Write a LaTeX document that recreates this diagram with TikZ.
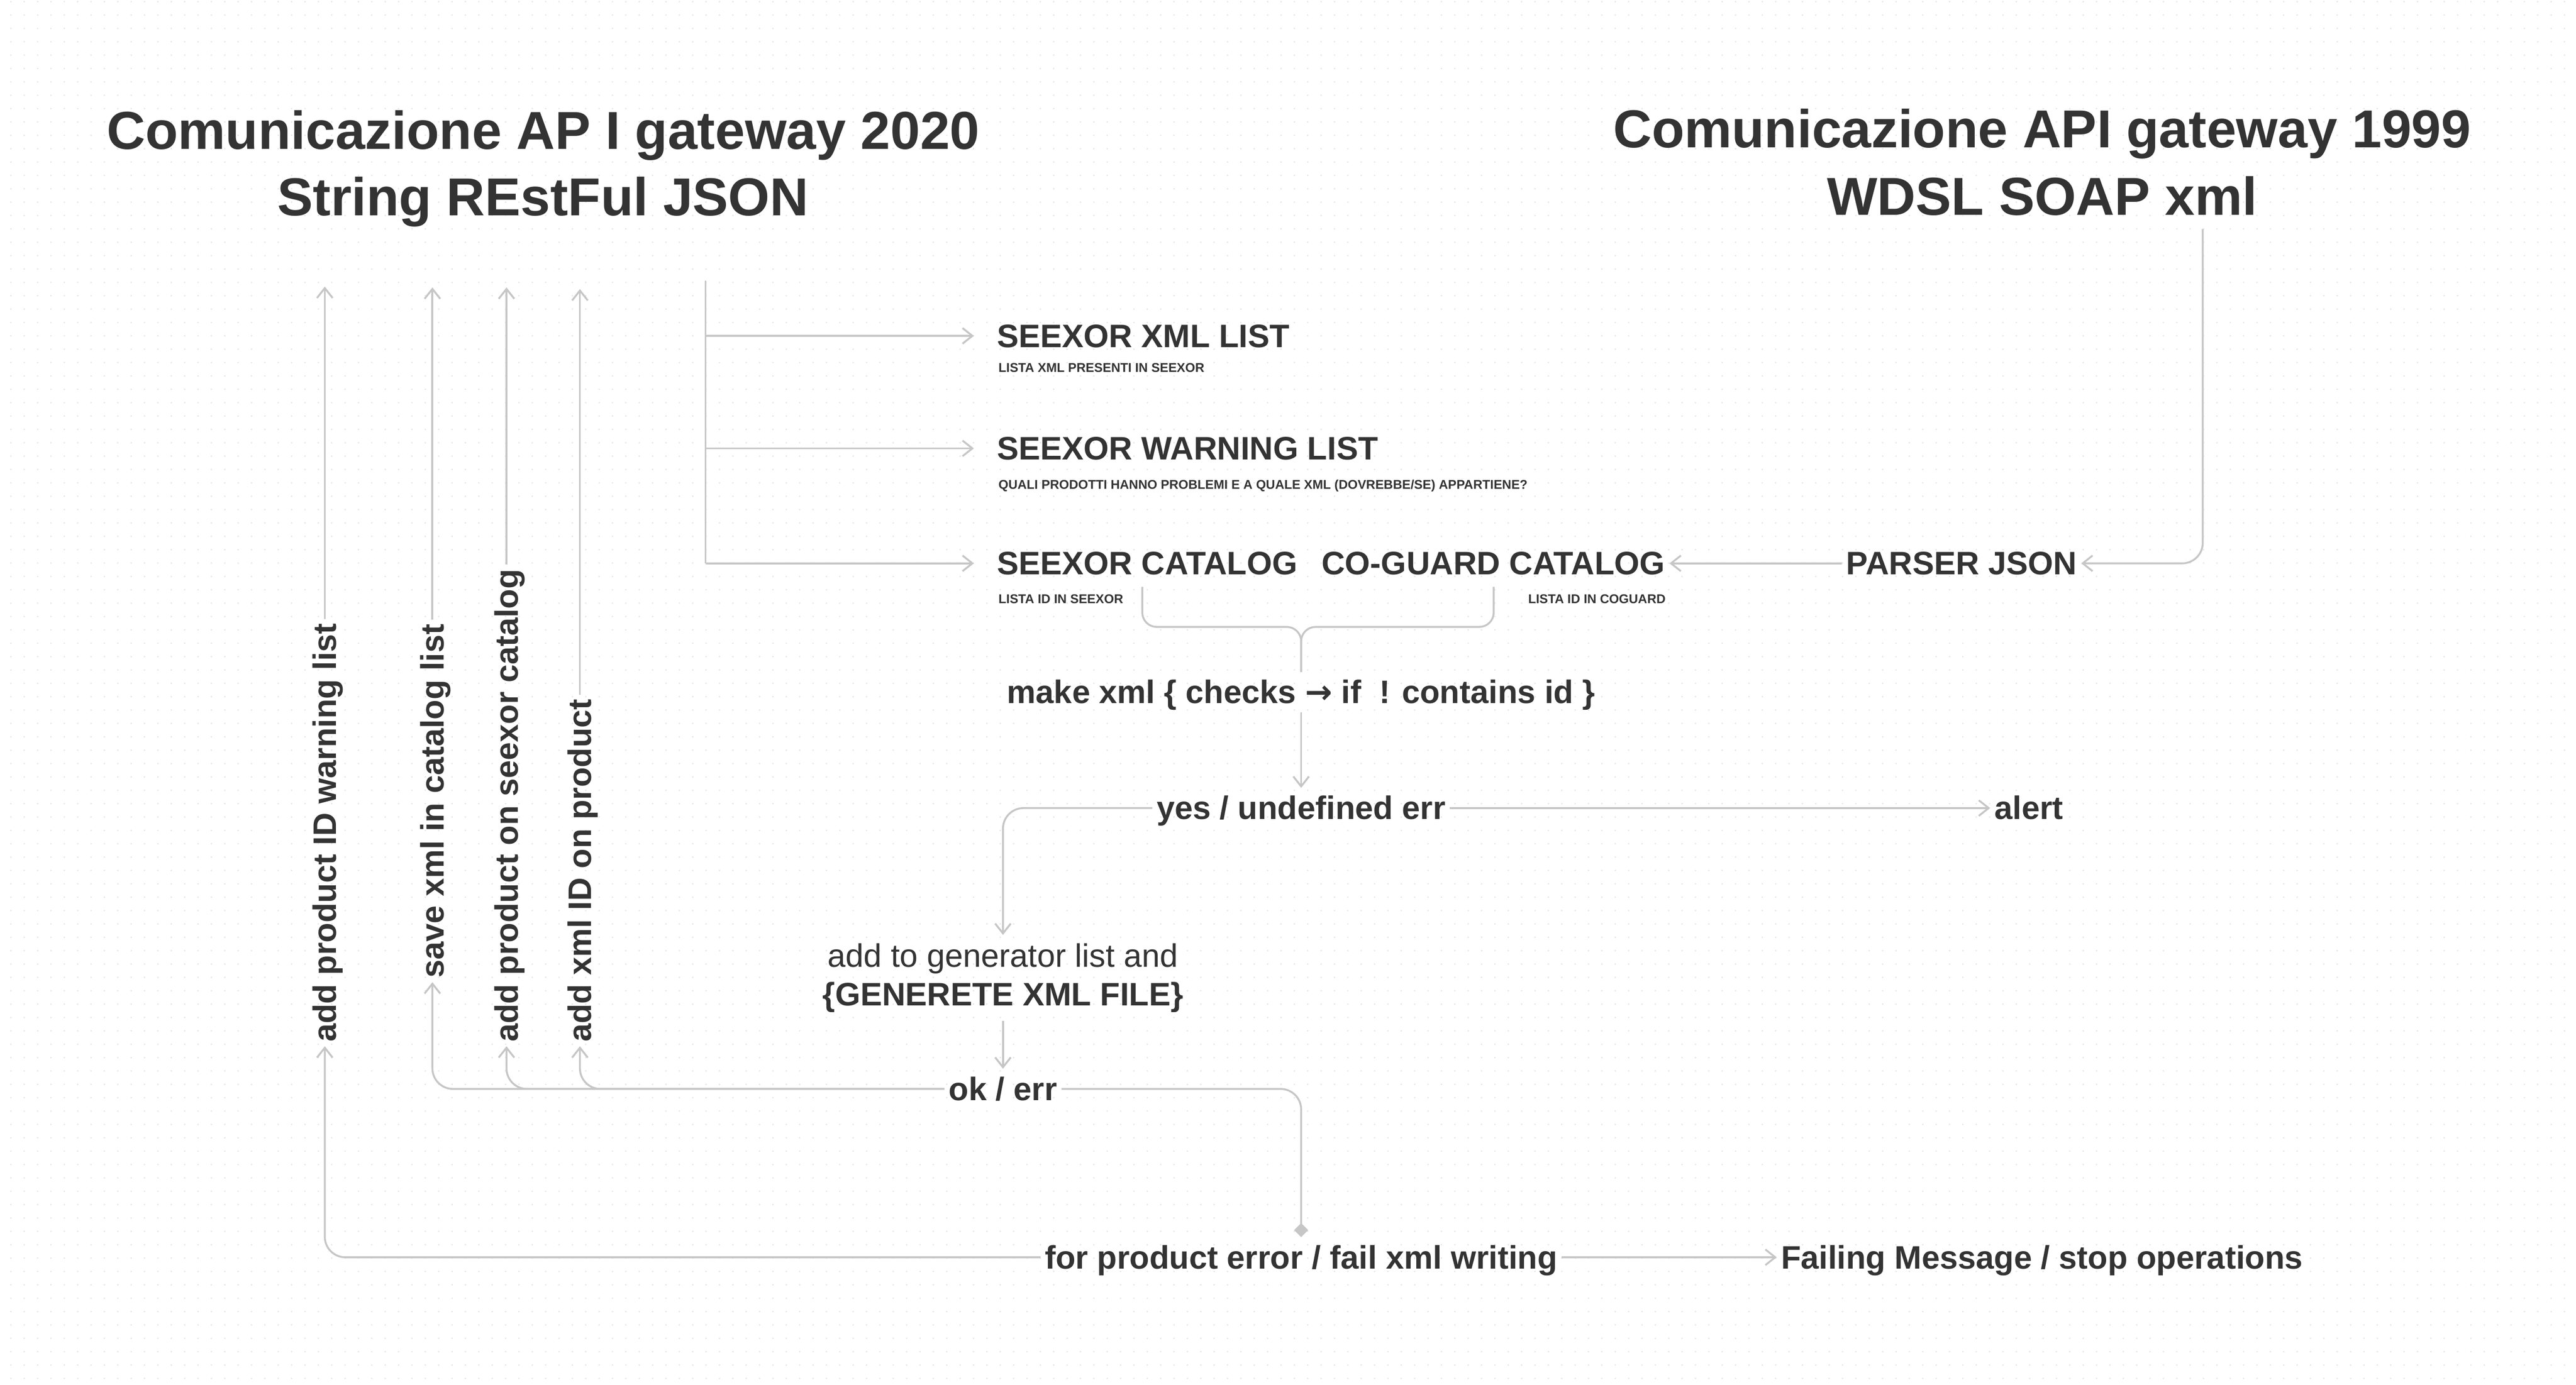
\documentclass[tikz,border=0pt]{standalone}
\usepackage{fontspec}
\setmainfont{Liberation Sans}
\newfontfamily\arrowfont{DejaVu Sans}
\usetikzlibrary{arrows.meta,calc}

\definecolor{ink}{HTML}{333333}
\definecolor{wire}{HTML}{C6C6C6}
\definecolor{dotgrey}{HTML}{E4E4E4}

\tikzset{
    title/.style={font=\fontsize{37}{45}\selectfont\bfseries, text=ink, anchor=base, inner sep=0pt},
    lbl/.style={font=\fontsize{22.5}{27}\selectfont\bfseries, text=ink, inner xsep=1mm, inner ysep=0.5mm, text height=20.25pt, text depth=4.5pt},
    vlbl/.style={lbl, rotate=90, anchor=west},
    sub/.style={font=\fontsize{8.8}{10}\selectfont\bfseries, text=ink, inner sep=0pt, text height=6.3pt, text depth=0pt},
    genbox/.style={font=\fontsize{22.5}{26.8}\selectfont, text=ink, align=center, inner xsep=1mm, inner ysep=2mm},
    link/.style={draw=wire, line width=1.3pt},
    conn/.style={link, -{Straight Barb[length=2.4mm, width=3.8mm]}},
    dotrow/.style={dotgrey, line width=0.4mm, line cap=round, dash pattern=on 0pt off 3.2552mm},
}

\begin{document}
\begin{tikzpicture}[x=0.4mm, y=-0.4mm]
    \fill [white] (0,0) rectangle (1568,843.2);
    \useasboundingbox (0,0) rectangle (1568,843.2);
    \foreach \r in {0,...,103}
        \draw [dotrow] (6.61,{1.02+8.138*\r}) -- (1568,{1.02+8.138*\r});

    % titles
    \node [title] (titleL) at (330.7,90.7) {Comunicazione AP I gateway 2020};
    \node [title] (titleLsub) at (330.5,131.1) {String REstFul JSON};
    \node [title] (titleR) at (1243,89.8) {Comunicazione API gateway 1999};
    \node [title] (titleRsub) at (1243,131) {WDSL SOAP xml};

    \coordinate (soap) at (1340.8,139.4);
    \coordinate (forktop) at (429.5,171);
    \coordinate (forkbot) at (429.5,343);
    \coordinate (braceL) at (695.3,357.3);
    \coordinate (braceR) at (909.2,357.3);
    \coordinate (brace) at (792,381.7);

    % lists and catalogs
    \node [lbl, anchor=west] (xmllist) at (604.3,204.5) {SEEXOR XML LIST};
    \node [sub, anchor=west] (xmlsub) at (607.6,223.7) {LISTA XML PRESENTI IN SEEXOR};
    \node [lbl, anchor=west] (warnlist) at (604.3,273) {SEEXOR WARNING LIST};
    \node [sub, anchor=west] (warnsub) at (607.6,295) {QUALI PRODOTTI HANNO PROBLEMI E A QUALE XML (DOVREBBE/SE) APPARTIENE?};
    \node [lbl, anchor=west] (seexcat) at (604.3,343) {SEEXOR CATALOG};
    \node [sub, anchor=west] (seexsub) at (607.6,364.6) {LISTA ID IN SEEXOR};
    \node [lbl, anchor=east] (coguard) at (1016.2,343) {CO-GUARD CATALOG};
    \node [sub, anchor=east] (cogsub) at (1014,364.6) {LISTA ID IN COGUARD};
    \node [lbl] (parser) at (1194,343) {PARSER JSON};

    % checks
    \node [lbl] (make) at (792,421.4) {make xml \{ checks {\arrowfont →} if\ \ ! contains id \}};
    \node [lbl] (yes) at (792,492) {yes / undefined err};
    \node [lbl, anchor=west] (alert) at (1211.4,492) {alert};
    \node [genbox] (gen) at (610.5,595.4) {add to generator list and\\\textbf{\{GENERETE XML FILE\}}};
    \node [lbl] (okerr) at (610.5,663) {ok / err};
    \node [lbl] (fail) at (792,765.5) {for product error / fail xml writing};
    \node [lbl, anchor=west] (failmsg) at (1081.5,765.5) {Failing Message / stop operations};

    % vertical actions
    \node [vlbl] (v1) at (197.7,637) {add product ID warning list};
    \node [vlbl] (v2) at (263.2,598) {save xml in catalog list};
    \node [vlbl] (v3) at (308.3,637) {add product on seexor catalog};
    \node [vlbl] (v4) at (353,637) {add xml ID on product};
    \coordinate (v1top) at (197.7,174.5);
    \coordinate (v2top) at (263.2,175);
    \coordinate (v3top) at (308.3,175);
    \coordinate (v4top) at (353,176);

    \draw [conn, rounded corners=5mm] (soap) |- (parser);
    \draw [conn] (parser) -- (coguard);

    \draw [link] (forktop) -- (forkbot);
    \foreach \n in {xmllist,warnlist,seexcat}
        \draw [conn, shorten >=4.6mm] (forktop |- \n) -- (\n);

    \draw [link, rounded corners=3.5mm] (braceL) |- (brace) -- (make.north);
    \draw [link, rounded corners=3.5mm] (braceR) |- (brace) -- (make.north);

    \draw [conn] (make) -- (yes);
    \draw [conn, rounded corners=5mm] (yes) -| (gen);
    \draw [conn] (yes) -- (alert);
    \draw [conn] (gen) -- (okerr);
    \foreach \v in {v2,v3,v4}
        \draw [conn, rounded corners=5mm] (okerr) -| (\v);
    \draw [link, rounded corners=5mm, -{Diamond[length=3.4mm, width=3.4mm]}] (okerr) -| (fail);
    \draw [conn, rounded corners=5mm] (fail) -| (v1);
    \draw [conn] (fail) -- (failmsg);

    \foreach \v in {v1,v2,v3,v4}
        \draw [conn] (\v) -- (\v top);
\end{tikzpicture}
\end{document}
